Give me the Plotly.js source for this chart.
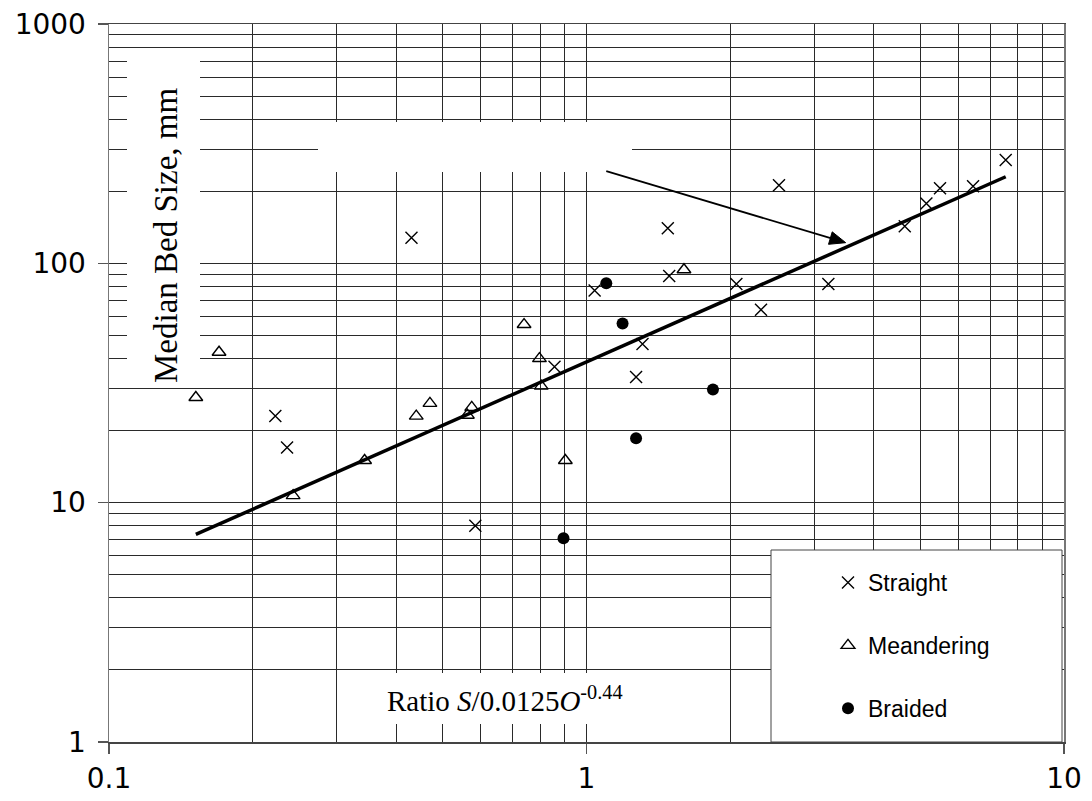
<!DOCTYPE html>
<html>
<head>
<meta charset="utf-8">
<script src="https://cdn.plot.ly/plotly-3.0.1.min.js"></script>
<style>
  html, body { margin: 0; padding: 0; background: #ffffff; }
  #chart { width: 1092px; height: 801px; }
</style>
</head>
<body>
<div id="chart"></div>
<script>
// ---------------- data ----------------
const seriesNames = ["Straight", "Meandering", "Braided"];

const straightX = [0.43, 0.223, 0.236, 0.585, 0.857, 1.04, 1.27, 1.31, 1.48, 1.49, 2.06, 2.32, 2.53, 3.21, 4.64, 5.15, 5.5, 6.45, 7.55];
const straightY = [128, 23, 17, 8, 37, 77, 33.5, 46, 140, 88.5, 82, 64, 212, 82, 143, 178, 206, 210, 270];

const meanderX = [0.152, 0.17, 0.243, 0.343, 0.44, 0.47, 0.563, 0.575, 0.74, 0.797, 0.804, 0.903, 1.60];
const meanderY = [27.5, 42.5, 10.7, 15, 23, 26, 23.2, 25, 55.5, 40, 30.7, 15, 94];

const braidedX = [0.895, 1.10, 1.19, 1.27, 1.84];
const braidedY = [7.1, 82.5, 56, 18.6, 29.7];

// fitted line end points
const fitX = [0.152, 7.55];
const fitY = [7.37, 230];

// arrow pointing to fitted line (tail -> tip), data units
const arrowTail = [1.10, 243];
const arrowTip = [3.49, 122];

const xTitleText = "Ratio <i>S</i>/0.0125<i>O</i><sup>-0.44</sup>";
const yTitleText = "Median Bed Size, mm";

// ---------------- layout helpers ----------------
const W = 1092, H = 801;
const M = {l: 109, r: 28, t: 24, b: 59};
const PW = W - M.l - M.r, PH = H - M.t - M.b;
const XR = [-1, 1], YR = [0, 3];
const px = x => (x - M.l) / PW;
const py = y => (H - M.b - y) / PH;
// data -> pixel along the log axes
const dx2pix = v => M.l + (Math.log10(v) - XR[0]) / (XR[1] - XR[0]) * PW;
const dy2pix = v => H - M.b - (Math.log10(v) - YR[0]) / (YR[1] - YR[0]) * PH;

const box = (x0, y0, x1, y1, line) => ({
  type: 'rect', xref: 'paper', yref: 'paper', layer: 'above',
  x0: px(x0), x1: px(x1), y0: py(y1), y1: py(y0),
  fillcolor: '#ffffff',
  line: line ? {color: '#444444', width: 1} : {width: 0}
});

// arrow built from the tail/tip data points
function arrowShapes(tail, tip) {
  const tx = dx2pix(tail[0]), ty = dy2pix(tail[1]);
  const hx = dx2pix(tip[0]), hy = dy2pix(tip[1]);
  const L = Math.hypot(hx - tx, hy - ty);
  const ux = (hx - tx) / L, uy = (hy - ty) / L;
  const headLen = 16, headHalf = 6.5;
  const bx = hx - ux * headLen, by = hy - uy * headLen;
  const p1 = [bx - uy * headHalf, by + ux * headHalf];
  const p2 = [bx + uy * headHalf, by - ux * headHalf];
  const P = (a, b) => px(a).toFixed(5) + ',' + py(b).toFixed(5);
  return [
    {type: 'line', xref: 'paper', yref: 'paper', layer: 'above',
     x0: px(tx), y0: py(ty), x1: px(bx + ux * 2), y1: py(by + uy * 2),
     line: {color: '#000', width: 1.8}},
    {type: 'path', xref: 'paper', yref: 'paper', layer: 'above',
     path: 'M' + P(hx, hy) + ' L' + P(p1[0], p1[1]) + ' L' + P(p2[0], p2[1]) + ' Z',
     fillcolor: '#000', line: {color: '#000', width: 1}}
  ];
}

const sans = 'Arial, "Liberation Sans", sans-serif';
const tickSans = '"DejaVu Sans", Arial, sans-serif';
const serif = '"Times New Roman", "Liberation Serif", serif';
const gridC = '#2a2a2a';

const traces = [
  {x: straightX, y: straightY, name: seriesNames[0], type: 'scatter', mode: 'markers',
   legendgroup: 'g1',
   marker: {symbol: 'x-thin-open', size: 12, color: '#000', line: {color: '#000', width: 1.4}}},
  {x: meanderX, y: meanderY, name: seriesNames[1], type: 'scatter', mode: 'markers',
   legendgroup: 'g2',
   marker: {symbol: 'triangle-up-open', size: 12, color: '#000', line: {color: '#000', width: 1.4}}},
  {x: braidedX, y: braidedY, name: seriesNames[2], type: 'scatter', mode: 'markers',
   legendgroup: 'g3',
   marker: {symbol: 'circle', size: 12, color: '#000'}},
  {x: fitX, y: fitY, name: 'fit', type: 'scatter', mode: 'lines', showlegend: false,
   line: {color: '#000', width: 3.5}}
];

const layout = {
  width: W, height: H,
  margin: M,
  paper_bgcolor: '#ffffff', plot_bgcolor: '#ffffff',
  showlegend: true,
  font: {family: sans, color: '#000'},
  xaxis: {
    type: 'log', range: XR, dtick: 1, exponentformat: 'none',
    showgrid: true, gridcolor: gridC, gridwidth: 1,
    minor: {dtick: 'D1', showgrid: true, gridcolor: gridC, gridwidth: 1, ticks: ''},
    ticks: 'outside', ticklen: 10, tickcolor: '#555', tickwidth: 1.5,
    showline: true, linecolor: '#444', linewidth: 1.5, mirror: true,
    zeroline: false, ticklabelstandoff: 1,
    tickfont: {family: tickSans, size: 28, color: '#000'}
  },
  yaxis: {
    type: 'log', range: YR, dtick: 1, exponentformat: 'none',
    showgrid: true, gridcolor: gridC, gridwidth: 1,
    minor: {dtick: 'D1', showgrid: true, gridcolor: gridC, gridwidth: 1, ticks: ''},
    ticks: 'outside', ticklen: 10, tickcolor: '#555', tickwidth: 1.5,
    showline: true, linecolor: '#777', linewidth: 1.5, mirror: true,
    zeroline: false, ticklabelstandoff: 6,
    tickfont: {family: tickSans, size: 28, color: '#000'}
  },
  legend: {
    x: px(828), xanchor: 'left', y: py(561), yanchor: 'top',
    bgcolor: 'rgba(0,0,0,0)', borderwidth: 0,
    font: {family: sans, size: 23, color: '#000'},
    tracegroupgap: 30, traceorder: 'grouped'
  },
  shapes: [
    box(127, 52, 200, 386, false),   // behind y label
    box(318, 122, 632, 172, false),  // blank label area
    box(348, 673, 660, 724, false),  // behind x label
    box(771, 550, 1062, 742, true)   // legend frame
  ].concat(arrowShapes(arrowTail, arrowTip)),
  annotations: [
    {xref: 'paper', yref: 'paper', x: px(166), y: py(236), xanchor: 'center', yanchor: 'middle',
     text: yTitleText, textangle: -90,
     showarrow: false, font: {family: serif, size: 33, color: '#000'}},
    {xref: 'paper', yref: 'paper', x: px(505), y: py(699), xanchor: 'center', yanchor: 'middle',
     text: xTitleText,
     showarrow: false, font: {family: serif, size: 29, color: '#000'}}
  ]
};

Plotly.newPlot('chart', traces, layout, {displayModeBar: false, staticPlot: true});
</script>
</body>
</html>
